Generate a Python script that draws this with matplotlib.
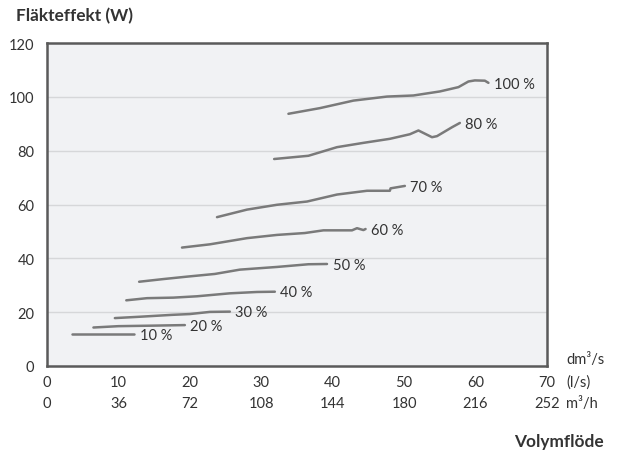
import matplotlib
matplotlib.use("Agg")
import matplotlib.pyplot as plt
from matplotlib.transforms import blended_transform_factory

plt.rcParams['font.family'] = ['Lato', 'DejaVu Sans']

# Data (flow in l/s, power in W)
s10_x = [3.5, 12.2]
s10_y = [11.9, 11.9]
s20_x = [6.5, 10.0, 15.0, 19.3]
s20_y = [14.3, 14.8, 15.0, 15.2]
s30_x = [9.5, 13.0, 17.5, 20.0, 22.8, 25.6]
s30_y = [17.8, 18.3, 19.0, 19.3, 20.1, 20.2]
s40_x = [11.1, 14.0, 17.7, 21.0, 25.6, 29.4, 31.9]
s40_y = [24.4, 25.2, 25.4, 25.9, 27.0, 27.5, 27.6]
s50_x = [12.9, 16.3, 19.6, 23.5, 27.0, 32.2, 36.6, 39.2]
s50_y = [31.3, 32.3, 33.2, 34.2, 35.8, 36.8, 37.8, 37.9]
s60_x = [18.9, 22.8, 28.0, 32.2, 36.1, 38.7, 42.7, 43.4, 44.3, 44.6]
s60_y = [44.0, 45.2, 47.5, 48.7, 49.4, 50.4, 50.4, 51.2, 50.5, 50.9]
s70_x = [23.8, 28.0, 32.2, 36.4, 40.6, 44.8, 48.0, 48.1, 50.1]
s70_y = [55.3, 58.1, 59.9, 61.1, 63.7, 65.1, 65.1, 66.0, 66.9]
s80_x = [31.8, 36.6, 40.6, 44.3, 48.0, 50.8, 52.0, 53.9, 54.6, 56.7, 57.8]
s80_y = [76.9, 78.1, 81.3, 82.9, 84.4, 86.1, 87.5, 85.0, 85.4, 88.7, 90.3]
s100_x = [33.8, 38.2, 42.9, 47.6, 51.3, 55.0, 57.6, 59.0, 59.9, 61.3, 61.8]
s100_y = [93.7, 95.8, 98.6, 100.1, 100.5, 102.0, 103.6, 105.7, 106.1, 106.0, 105.2]

series = [
    ("10 %", s10_x, s10_y),
    ("20 %", s20_x, s20_y),
    ("30 %", s30_x, s30_y),
    ("40 %", s40_x, s40_y),
    ("50 %", s50_x, s50_y),
    ("60 %", s60_x, s60_y),
    ("70 %", s70_x, s70_y),
    ("80 %", s80_x, s80_y),
    ("100 %", s100_x, s100_y),
]

ls_ticks = [0, 10, 20, 30, 40, 50, 60, 70]
m3h_labels = ["0", "36", "72", "108", "144", "180", "216", "252"]
y_ticks = [0, 20, 40, 60, 80, 100, 120]

text_color = "#333333"
line_color = "#7a7a7a"
fs = 10.5

fig = plt.figure(figsize=(6.22, 4.56), dpi=100)
ax = fig.add_axes([47/622, 89/456, 500/622, 323/456])
ax.set_facecolor("#f1f2f4")
ax.set_xlim(0, 70)
ax.set_ylim(0, 120)

for yv in y_ticks[1:-1]:
    ax.axhline(yv, color="#d6d7d9", lw=1.0, zorder=1)

for lab, xs, ys in series:
    ax.plot(xs, ys, color=line_color, lw=1.8, zorder=3, solid_capstyle="round")
    ax.annotate(lab, xy=(xs[-1], ys[-1]), xytext=(4.0, -0.5), textcoords="offset points",
                ha="left", va="center", fontsize=fs, color=text_color)

for sp in ax.spines.values():
    sp.set_color("#5a5a5a")
    sp.set_linewidth(1.8)

ax.set_yticks(y_ticks)
ax.set_yticklabels([str(v) for v in y_ticks], fontsize=fs, color=text_color)
ax.tick_params(axis="y", length=0, pad=9)
ax.set_xticks(ls_ticks)
ax.set_xticklabels([])
ax.tick_params(axis="x", length=0)

trans = blended_transform_factory(ax.transData, ax.transAxes)
row1 = -16/323
row2 = -37/323
for v, m in zip(ls_ticks, m3h_labels):
    ax.text(v, row1, str(v), transform=trans, ha="center", va="center",
            fontsize=fs, color=text_color)
    ax.text(v, row2, m, transform=trans, ha="center", va="center",
            fontsize=fs, color=text_color)

fig.text(566/622, 1 - 360/456, "dm³/s", ha="left", va="center",
         fontsize=fs, color=text_color)
fig.text(566/622, 1 - 383/456, "(l/s)", ha="left", va="center",
         fontsize=fs, color=text_color)
fig.text(566/622, 1 - 404/456, "m³/h", ha="left", va="center",
         fontsize=fs, color=text_color)

fig.text(16/622, 1 - 16/456, "Fläkteffekt (W)", ha="left", va="center",
         fontsize=12.4, fontweight="bold", color=text_color)
fig.text(604/622, 1 - 442/456, "Volymflöde", ha="right", va="center",
         fontsize=12.4, fontweight="bold", color=text_color)

fig.savefig("out.png", dpi=100)
